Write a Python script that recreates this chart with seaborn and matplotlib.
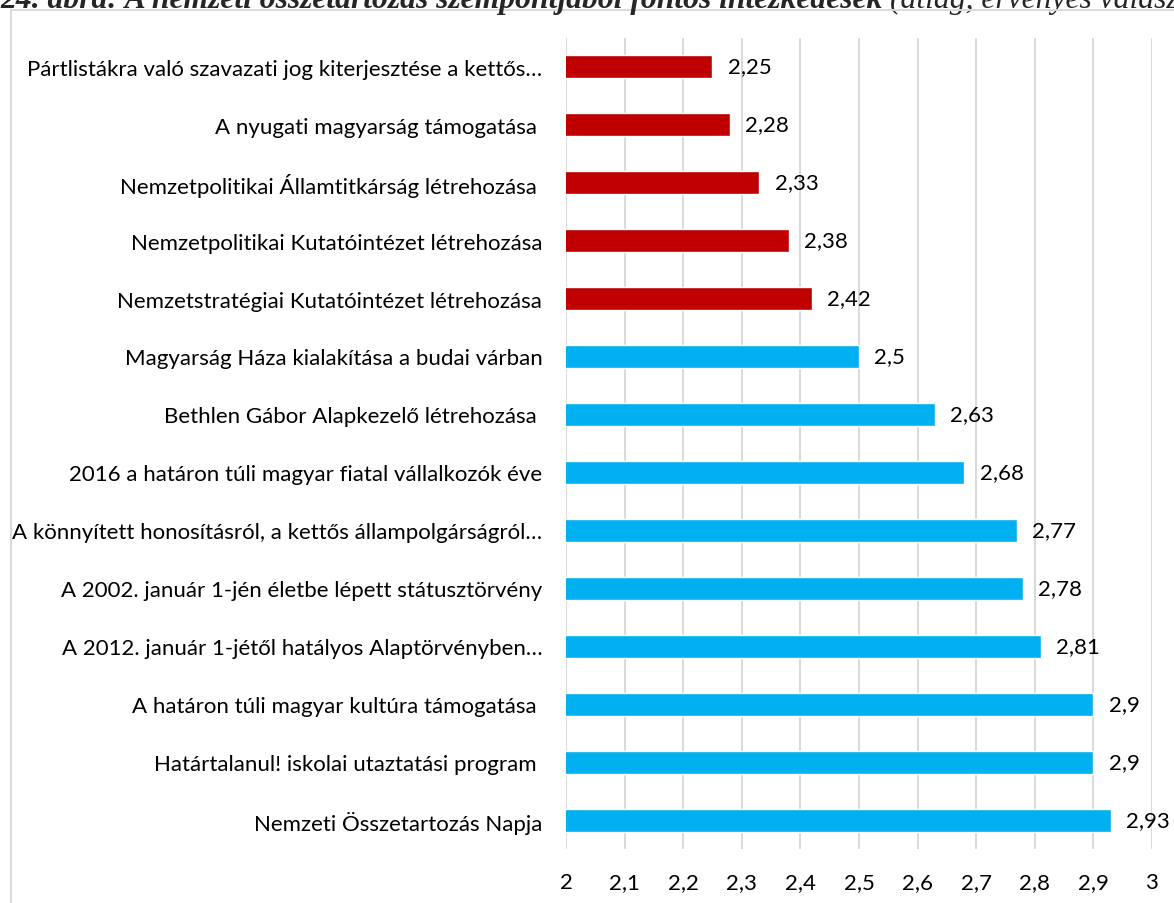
import pandas as pd
import matplotlib.pyplot as plt
import matplotlib.patches as mpatches
import seaborn as sns

# Adatok (felülről lefelé)
categories = [
    "Pártlistákra való szavazati jog kiterjesztése a kettős…",
    "A nyugati magyarság támogatása ",
    "Nemzetpolitikai Államtitkárság létrehozása ",
    "Nemzetpolitikai Kutatóintézet létrehozása",
    "Nemzetstratégiai Kutatóintézet létrehozása",
    "Magyarság Háza kialakítása a budai várban",
    "Bethlen Gábor Alapkezelő létrehozása ",
    "2016 a határon túli magyar fiatal vállalkozók éve",
    "A könnyített honosításról, a kettős állampolgárságról…",
    "A 2002. január 1-jén életbe lépett státusztörvény",
    "A 2012. január 1-jétől hatályos Alaptörvényben…",
    "A határon túli magyar kultúra támogatása ",
    "Határtalanul! iskolai utaztatási program ",
    "Nemzeti Összetartozás Napja",
]
values = [2.25, 2.28, 2.33, 2.38, 2.42, 2.5, 2.63, 2.68, 2.77, 2.78, 2.81, 2.9, 2.9, 2.93]
groups = ["alacsony"] * 5 + ["magas"] * 9
colors = {"alacsony": "#C00000", "magas": "#00B0F0"}

title_bold = "24. ábra: A nemzeti összetartozás szempontjából fontos intézkedések "
title_rest = "(átlag, érvényes válaszok)"

df = pd.DataFrame({"kategoria": categories, "atlag": values, "csoport": groups})

sns.set_style("white")
plt.rcParams["font.family"] = ["Lato", "DejaVu Sans"]

fig = plt.figure(figsize=(11.74, 9.04), dpi=100)
ax = fig.add_axes([0.4821, 0.0592, 0.4991, 0.8982])

sns.barplot(data=df, x="atlag", y="kategoria", hue="csoport", palette=colors,
            saturation=1, dodge=False, legend=False, width=0.4, ax=ax, orient="h")

ax.set_xlim(2, 3)
ax.set_xticks([2 + i / 10 for i in range(11)])
ax.set_xticklabels([f"{2 + i / 10:g}".replace(".", ",") for i in range(11)])
ax.set_xlabel("")
ax.set_ylabel("")
ax.grid(axis="x", color="#D9D9D9", linewidth=1.4)
ax.set_axisbelow(True)
for side in ["top", "right", "bottom", "left"]:
    ax.spines[side].set_visible(False)
ax.tick_params(axis="y", length=0, pad=17, labelsize=16, labelcolor="black")
ax.tick_params(axis="x", length=0, pad=16, labelsize=16, labelcolor="black")

for c in ax.containers:
    ax.bar_label(c, labels=[f"{v:g}".replace(".", ",") for v in c.datavalues],
                 padding=11, fontsize=16, color="black")

# Keret
fig.patches.append(mpatches.Rectangle((10.5 / 1174, -0.1), 2, 1.1 - 10.5 / 904,
                                      transform=fig.transFigure, fill=False,
                                      edgecolor="#D9D9D9", linewidth=1.4))

# Cím (a felső része le van vágva)
t1 = fig.text(0.0, 1 - 8 / 904, title_bold, fontsize=22.8, fontweight="bold",
              fontstyle="italic", family=["Liberation Serif"], va="baseline")
ax.annotate(title_rest, xy=(1, 0), xycoords=t1, va="bottom", ha="left",
            fontsize=22.8, fontstyle="italic", family=["Liberation Serif"],
            annotation_clip=False)

fig.savefig("out.png", dpi=100)
